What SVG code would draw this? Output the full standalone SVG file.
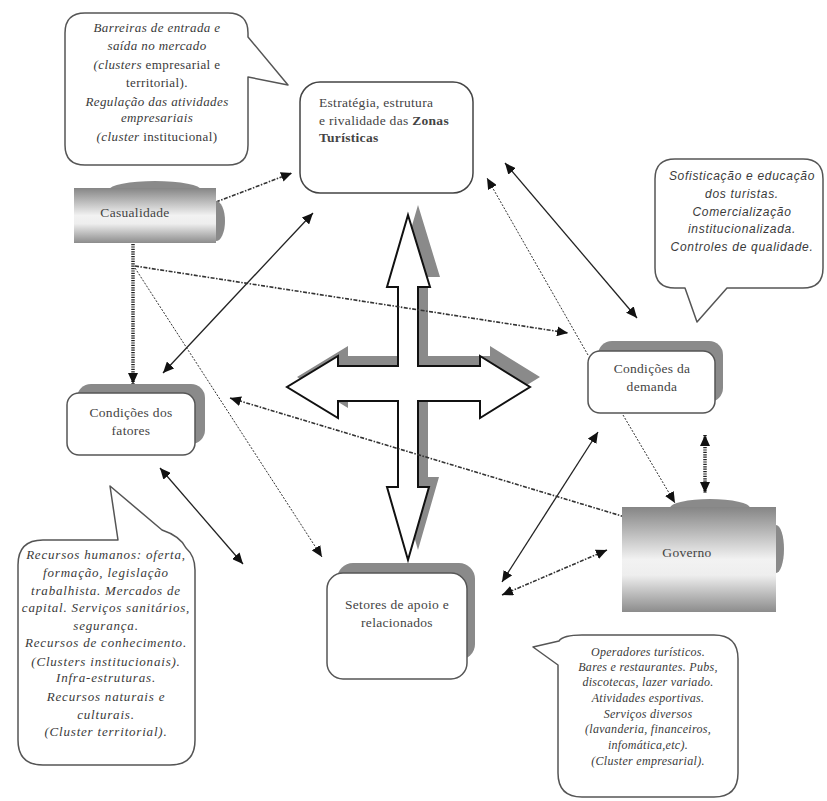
<svg xmlns="http://www.w3.org/2000/svg" width="827" height="801" viewBox="0 0 827 801">
<style>
.bg{fill:#fff}
.callout{fill:#fff;stroke:#555;stroke-width:1.5;stroke-linejoin:round}
.box{fill:#fff;stroke:#555;stroke-width:1.5}
.shadow{fill:#8a8a8a}
.t{font-family:"Liberation Serif",serif;font-size:13.5px;fill:#444;letter-spacing:0.3px}
.ti{font-family:"Liberation Serif",serif;font-size:13px;font-style:italic;fill:#3a3a3a;text-anchor:middle;letter-spacing:0.4px}
.tb{letter-spacing:0.8px}
.tr{font-size:12px;letter-spacing:0.3px}
.tu{font-style:normal}
.ts{font-family:"Liberation Sans",sans-serif;font-size:12px;font-style:italic;fill:#3a3a3a;text-anchor:middle;letter-spacing:0.7px}
.solid{fill:none;stroke:#222;stroke-width:1.3}
.dot{fill:none;stroke:#333;stroke-width:1;stroke-dasharray:2 1.5}
.dd{fill:none;stroke:#333;stroke-width:1.6;stroke-dasharray:4 1.5 1.5 1.5}
.thick{fill:none;stroke:#222;stroke-width:3.5;stroke-dasharray:1.2 1.2}
.bump{fill:#8a8a8a}
</style>
<defs>
<marker id="ah" markerUnits="userSpaceOnUse" markerWidth="12" markerHeight="10" refX="11" refY="5" orient="auto-start-reverse">
<path d="M0,0 L11,5 L0,10 Z" fill="#111"/>
</marker>
<linearGradient id="grad" x1="0" y1="0" x2="0" y2="1">
<stop offset="0" stop-color="#858585"/>
<stop offset="0.5" stop-color="#f2f2f2"/>
<stop offset="0.65" stop-color="#eeeeee"/>
<stop offset="1" stop-color="#8c8c8c"/>
</linearGradient>
</defs>
<rect class="bg" x="0" y="0" width="827" height="801"/>

<!-- central cross -->
<g id="cross">
<polygon class="shadow" transform="translate(10,-10)" points="408,215 430,287 418,287 418,366 480,366 480,356 530,387 480,418 480,401 418,401 418,487 429,487 408,560 387,487 398,487 398,401 338,401 338,418 287,387 338,356 338,366 398,366 398,287 387,287"/>
<polygon fill="#fff" stroke="#111" stroke-width="2" stroke-linejoin="miter" points="408,215 430,287 418,287 418,366 480,366 480,356 530,387 480,418 480,401 418,401 418,487 429,487 408,560 387,487 398,487 398,401 338,401 338,418 287,387 338,356 338,366 398,366 398,287 387,287"/>
</g>

<!-- connectors -->
<g id="connectors">
<line class="dd" x1="216" y1="202" x2="292" y2="173" marker-end="url(#ah)"/>
<line class="solid" x1="163" y1="373" x2="313" y2="213" marker-start="url(#ah)" marker-end="url(#ah)"/>
<line class="thick" x1="133" y1="244" x2="133" y2="384" marker-end="url(#ah)"/>
<line class="dd" x1="135" y1="266" x2="568" y2="333" marker-end="url(#ah)"/>
<line class="dot" x1="135" y1="268" x2="322" y2="557" marker-end="url(#ah)"/>
<line class="solid" x1="160" y1="468" x2="243" y2="564" marker-start="url(#ah)" marker-end="url(#ah)"/>
<line class="solid" x1="505" y1="163" x2="637" y2="318" marker-start="url(#ah)" marker-end="url(#ah)"/>
<line class="dot" x1="588" y1="355" x2="487" y2="178" marker-end="url(#ah)"/>
<line class="solid" x1="598" y1="432" x2="502" y2="582" marker-start="url(#ah)" marker-end="url(#ah)"/>
<line class="dot" x1="623" y1="415" x2="675" y2="503" marker-end="url(#ah)"/>
<line class="thick" x1="705" y1="435" x2="705" y2="493" marker-start="url(#ah)" marker-end="url(#ah)"/>
<line class="dd" x1="230" y1="398" x2="635" y2="520" marker-start="url(#ah)" marker-end="url(#ah)"/>
<line class="dd" x1="607" y1="550" x2="502" y2="595" marker-start="url(#ah)" marker-end="url(#ah)"/>
</g>

<!-- callouts -->
<g id="callout-barreiras">
<path class="callout" d="M85,13 H228 Q248,13 248,33 V37 L288,85 L248,77 V145 Q248,165 228,165 H85 Q65,165 65,145 V33 Q65,13 85,13 Z"/>
<text class="ti" x="157" y="32">Barreiras de entrada e</text>
<text class="ti" x="157" y="50">saída no mercado</text>
<text class="ti" x="157" y="69">(clusters <tspan class="tu">empresarial e</tspan></text>
<text class="ti" x="157" y="87"><tspan class="tu">territorial).</tspan></text>
<text class="ti" x="157" y="106">Regulação das atividades</text>
<text class="ti" x="157" y="122">empresariais</text>
<text class="ti" x="157" y="141">(cluster <tspan class="tu">institucional)</tspan></text>
</g>

<g id="callout-sofisticacao">
<path class="callout" d="M675,159 H803 Q823,159 823,179 V268 Q823,288 803,288 H727 L697,322 L685,288 H675 Q655,288 655,268 V179 Q655,159 675,159 Z"/>
<text class="ts" x="742" y="180">Sofisticação e educação</text>
<text class="ts" x="742" y="198">dos turistas.</text>
<text class="ts" x="742" y="216">Comercialização</text>
<text class="ts" x="742" y="233">institucionalizada.</text>
<text class="ts" x="742" y="251">Controles de qualidade.</text>
</g>

<g id="callout-recursos">
<path class="callout" d="M43,540 H118 L110,486 L162,530 Q180,536 186,548 Q195,556 195,570 V740 Q195,765 170,765 H43 Q18,765 18,740 V565 Q18,540 43,540 Z"/>
<text class="ti tb" x="106" y="559">Recursos humanos: oferta,</text>
<text class="ti tb" x="106" y="577">formação, legislação</text>
<text class="ti tb" x="106" y="595">trabalhista. Mercados de</text>
<text class="ti tb" x="106" y="612">capital. Serviços sanitários,</text>
<text class="ti tb" x="106" y="630">segurança.</text>
<text class="ti tb" x="106" y="647">Recursos de conhecimento.</text>
<text class="ti tb" x="106" y="666">(Clusters institucionais).</text>
<text class="ti tb" x="106" y="682">Infra-estruturas.</text>
<text class="ti tb" x="106" y="701">Recursos naturais e</text>
<text class="ti tb" x="106" y="719">culturais.</text>
<text class="ti tb" x="106" y="736">(Cluster territorial).</text>
</g>

<g id="callout-operadores">
<path class="callout" d="M582,635 H714 Q738,635 738,659 V773 Q738,797 714,797 H582 Q558,797 558,773 V665 L533,647 L559,641 Q563,635 582,635 Z"/>
<text class="ti tr" x="648" y="656">Operadores turísticos.</text>
<text class="ti tr" x="648" y="671">Bares e restaurantes. Pubs,</text>
<text class="ti tr" x="648" y="686">discotecas, lazer variado.</text>
<text class="ti tr" x="648" y="702">Atividades esportivas.</text>
<text class="ti tr" x="648" y="718">Serviços diversos</text>
<text class="ti tr" x="648" y="733">(lavanderia, financeiros,</text>
<text class="ti tr" x="648" y="749">infomática,etc).</text>
<text class="ti tr" x="648" y="765">(Cluster empresarial).</text>
</g>

<!-- nodes -->
<g id="estrategia">
<rect class="box" x="300" y="82" width="173" height="111" rx="20" ry="20" style="stroke:#444"/>
<text class="t" x="319" y="107">Estratégia, estrutura</text>
<text class="t" x="319" y="125"> e rivalidade das <tspan font-weight="bold">Zonas</tspan></text>
<text class="t" x="319" y="142" font-weight="bold">Turísticas</text>
</g>

<g id="casualidade">
<ellipse class="bump" cx="155" cy="190" rx="46" ry="9"/>
<ellipse class="bump" cx="216" cy="221" rx="9" ry="20"/>
<rect x="74" y="188" width="142" height="55" fill="url(#grad)"/>
<text class="t" x="135" y="217" text-anchor="middle">Casualidade</text>
</g>

<g id="demanda">
<rect class="shadow" x="598" y="341" width="125" height="61" rx="14" ry="14"/>
<rect class="box" x="588" y="351" width="127" height="62" rx="12" ry="12"/>
<text class="t" x="652" y="373" text-anchor="middle">Condições da</text>
<text class="t" x="652" y="391" text-anchor="middle">demanda</text>
</g>

<g id="fatores">
<rect class="shadow" x="77" y="384" width="128" height="60" rx="14" ry="14"/>
<rect class="box" x="67" y="393" width="128" height="62" rx="12" ry="12"/>
<text class="t" x="131" y="417" text-anchor="middle">Condições dos</text>
<text class="t" x="131" y="435" text-anchor="middle">fatores</text>
</g>

<g id="setores">
<rect class="shadow" x="337" y="563" width="138" height="97" rx="16" ry="16"/>
<rect class="box" x="327" y="573" width="140" height="106" rx="16" ry="16"/>
<text class="t" x="397" y="609" text-anchor="middle">Setores de apoio e</text>
<text class="t" x="397" y="627" text-anchor="middle">relacionados</text>
</g>

<g id="governo">
<ellipse class="bump" cx="710" cy="508" rx="40" ry="9"/>
<ellipse class="bump" cx="776" cy="549" rx="8" ry="24"/>
<rect x="622" y="507" width="154" height="105" fill="url(#grad)"/>
<text class="t" x="687" y="557" text-anchor="middle">Governo</text>
</g>
</svg>
